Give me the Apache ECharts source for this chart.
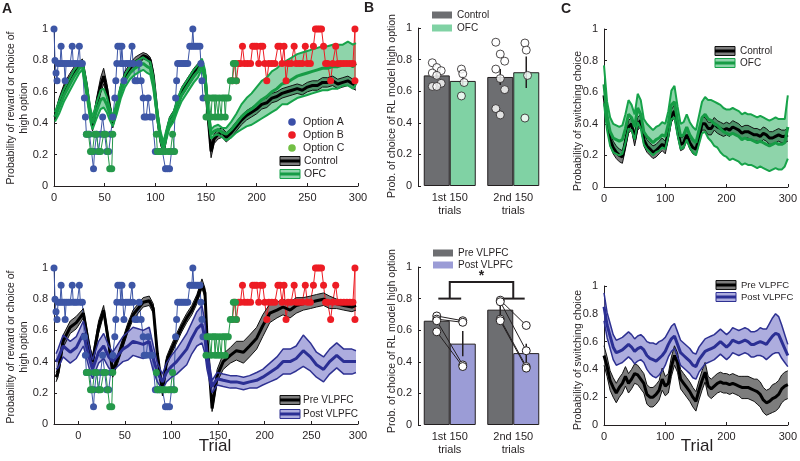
<!DOCTYPE html>
<html>
<head>
<meta charset="utf-8">
<script src="https://cdn.jsdelivr.net/npm/echarts@6/dist/echarts.min.js"></script>
<style>
html, body { margin: 0; padding: 0; background: #fff; }
#chart { width: 800px; height: 461px; }
</style>
</head>
<body>
<div id="chart"></div>
<script>
// ---- panel A : reward schedule (trial, probability) ----
var optA = [[0,1],[1,0.8],[2,0.72],[3,0.67],[4,0.78],[6,0.78],[7,0.89],[8,0.78],[10,0.78],[11,0.67],[12,0.78],[14,0.78],[16,0.78],[18,0.89],[19,0.78],[21,0.78],[23,0.78],[25,0.89],[26,0.78],[28,0.78],
    [30,0.56],[31,0.44],[32,0.33],[35,0.33],[37,0.22],[39,0.11],[40,0.22],[42,0.33],[44,0.22],[46,0.33],[48,0.44],[50,0.33],[52,0.22],[54,0.22],[56,0.33],[58,0.44],
    [60,0.56],[61,0.67],[62,0.78],[63,0.89],[65,0.89],[66,0.78],[67,0.89],[68,0.78],[69,0.67],[71,0.78],[73,0.78],[75,0.78],[77,0.89],[78,0.78],[80,0.67],[82,0.67],[84,0.78],[86,0.67],[88,0.56],[89,0.44],[91,0.44],[93,0.56],[95,0.44],[97,0.44],
    [100,0.22],[102,0.22],[104,0.22],[107,0.22],[110,0.11],[112,0.11],[114,0.11],[116,0.22],[118,0.22],
    [120,0.56],[121,0.67],[122,0.78],[124,0.78],[126,0.78],[128,0.78],[130,0.78],[132,0.78],[134,0.89],[136,0.89],[137,1],[138,0.89],[140,0.89],[142,0.89],[144,0.89],[145,0.78],[146,0.67],[147,0.56]];
var optB = [[176,0.67],[178,0.78],[180,0.67],[182,0.78],[184,0.78],[186,0.89],[188,0.78],[191,0.78],[194,0.78],[196,0.89],[198,0.89],[200,0.89],[202,0.78],[204,0.89],[206,0.89],[208,0.78],[210,0.67],[212,0.78],[215,0.78],[218,0.78],
    [221,0.89],[223,0.89],[225,0.78],[227,0.89],[229,0.67],[231,0.78],[234,0.78],[237,0.89],[239,0.78],[242,0.78],[245,0.78],[248,0.89],[250,0.78],[253,0.78],[256,0.89],[258,1],[260,1],[262,1],[264,1],[266,0.89],
    [268,0.78],[270,0.78],[273,0.67],[275,0.78],[278,0.89],[280,0.78],[283,0.78],[286,0.78],[289,0.78],[292,0.78],[295,0.78],[297,1],[297,0.67]];
var optC1 = [[32,0.33],[34,0.33],[36,0.22],[38,0.22],[40,0.33],[42,0.33],[44,0.22],[46,0.22],[49,0.33],[51,0.33],[53,0.22],[55,0.11],[57,0.11],[58,0.33]];
var optC2 = [[101,0.33],[102,0.22],[104,0.22],[106,0.22],[108,0.22],[110,0.22],[113,0.22],[115,0.22],[117,0.33],[119,0.22]];
var optC3 = [[150,0.44],[151,0.56],[153,0.56],[155,0.44],[156,0.56],[158,0.56],[159,0.44],[160,0.56],[162,0.44],[163,0.56],[165,0.44],[166,0.56],[168,0.56],[169,0.44],[170,0.56],[172,0.56],[174,0.67],[176,0.67],[177,0.78],[179,0.78],[180,0.67]];

// ---- panel A top : Control vs OFC ----
var aTopX = [1,5,10,15,20,25,28, 32,36,38,42,46,49,52,55,58, 62,66,70,75,80,85,88,92,95,98,
    102,105,108,111,114,118,122,126,130,134, 138,142,146,149,152,155,158,162,166,170,
    175,180,185,190,195,200,205,210,215,220, 225,230,235,240,245,250,255,260,265,270, 275,280,285,290,295,298];
var aTopCtrlMean = [0.44,0.53,0.62,0.68,0.73,0.77,0.79, 0.64,0.45,0.38,0.52,0.64,0.70,0.62,0.50,0.40,
    0.50,0.62,0.70,0.75,0.79,0.81,0.83,0.82,0.80,0.70, 0.45,0.30,0.22,0.33,0.41,0.45,0.53,0.60,0.64,0.68,
    0.72,0.75,0.79,0.70,0.45,0.22,0.30,0.33,0.34,0.31, 0.34,0.38,0.42,0.45,0.47,0.49,0.52,0.53,0.56,0.57,
    0.59,0.60,0.61,0.62,0.61,0.63,0.64,0.64,0.66,0.66, 0.67,0.65,0.66,0.67,0.65,0.64];
var aTopCtrlSem = [0.02,0.03,0.03,0.03,0.03,0.02,0.02, 0.03,0.03,0.03,0.04,0.05,0.05,0.04,0.03,0.03,
    0.03,0.03,0.03,0.03,0.03,0.03,0.02,0.02,0.02,0.03, 0.03,0.03,0.02,0.03,0.03,0.03,0.03,0.03,0.03,0.03,
    0.03,0.03,0.02,0.03,0.04,0.04,0.03,0.03,0.03,0.03, 0.03,0.03,0.03,0.03,0.03,0.03,0.03,0.03,0.03,0.03,
    0.03,0.03,0.03,0.03,0.03,0.03,0.03,0.03,0.03,0.03, 0.03,0.03,0.03,0.03,0.03,0.03];
var aTopOfcMean = [0.44,0.50,0.58,0.64,0.70,0.75,0.77, 0.62,0.45,0.40,0.48,0.55,0.56,0.52,0.46,0.41,
    0.50,0.60,0.67,0.72,0.75,0.77,0.78,0.76,0.75,0.66, 0.45,0.32,0.25,0.33,0.40,0.44,0.52,0.58,0.62,0.66,
    0.70,0.73,0.78,0.70,0.48,0.33,0.35,0.36,0.34,0.33, 0.36,0.40,0.44,0.47,0.49,0.52,0.55,0.57,0.60,0.62,
    0.65,0.66,0.68,0.70,0.71,0.72,0.73,0.74,0.75,0.75, 0.76,0.76,0.77,0.78,0.76,0.78];
var aTopOfcSem = [0.03,0.04,0.04,0.04,0.04,0.03,0.03, 0.04,0.04,0.04,0.05,0.06,0.06,0.05,0.04,0.03,
    0.04,0.04,0.04,0.04,0.04,0.04,0.04,0.04,0.04,0.04, 0.03,0.03,0.03,0.03,0.03,0.03,0.04,0.04,0.04,0.04,
    0.04,0.04,0.03,0.04,0.04,0.03,0.03,0.03,0.03,0.04, 0.05,0.06,0.08,0.09,0.10,0.11,0.12,0.12,0.13,0.13,
    0.13,0.14,0.14,0.14,0.14,0.14,0.14,0.14,0.14,0.14, 0.14,0.14,0.13,0.14,0.14,0.13];

// ---- panel A bottom : Pre vs Post VLPFC ----
var aBotX = [2,4,9,16,22,29,35,38,44,49, 54,58,63,68,73,78,83,88,94,98, 102,107,111,116,121,126,131,136,141,146,
    149,151,156,161,167,174,180,187,193,200, 206,213,220,226,233,239,246,253,259,266, 272,279,286,294,298];
var aBotPreMean = [0.30,0.33,0.53,0.62,0.65,0.71,0.48,0.40,0.62,0.73, 0.52,0.33,0.42,0.52,0.62,0.70,0.74,0.78,0.79,0.74,
    0.45,0.20,0.40,0.48,0.55,0.62,0.68,0.73,0.80,0.90, 0.84,0.55,0.10,0.31,0.40,0.44,0.47,0.46,0.50,0.55,
    0.63,0.71,0.73,0.75,0.73,0.76,0.77,0.78,0.79,0.80, 0.78,0.77,0.76,0.75,0.76];
var aBotPreSem = [0.03,0.03,0.04,0.04,0.04,0.03,0.03,0.03,0.04,0.03, 0.03,0.03,0.03,0.03,0.03,0.03,0.03,0.03,0.03,0.03,
    0.03,0.02,0.03,0.03,0.03,0.03,0.03,0.03,0.03,0.03, 0.03,0.03,0.02,0.04,0.05,0.05,0.06,0.07,0.07,0.07,
    0.07,0.06,0.05,0.05,0.05,0.05,0.04,0.04,0.04,0.04, 0.04,0.03,0.03,0.03,0.03];
var aBotPostMean = [0.40,0.42,0.50,0.46,0.49,0.58,0.42,0.35,0.46,0.50, 0.43,0.40,0.44,0.48,0.50,0.53,0.52,0.51,0.53,0.42,
    0.33,0.27,0.33,0.37,0.40,0.44,0.48,0.55,0.61,0.64, 0.55,0.42,0.24,0.29,0.28,0.27,0.27,0.26,0.27,0.28,
    0.30,0.33,0.36,0.40,0.40,0.42,0.47,0.43,0.38,0.35, 0.40,0.44,0.40,0.40,0.40];
var aBotPostSem = [0.05,0.06,0.07,0.07,0.07,0.08,0.07,0.06,0.07,0.08, 0.07,0.06,0.07,0.08,0.09,0.09,0.09,0.09,0.09,0.08,
    0.06,0.05,0.06,0.07,0.08,0.09,0.10,0.10,0.11,0.12, 0.10,0.07,0.04,0.04,0.04,0.04,0.04,0.04,0.04,0.05,
    0.05,0.06,0.07,0.08,0.08,0.08,0.10,0.09,0.08,0.08, 0.08,0.08,0.08,0.08,0.07];

// ---- panel B : model fits ----
var bCats = ['1st 150\ntrials', '2nd 150\ntrials'];
var ctrlBar = [0.70, 0.69], ctrlErr = [0.02, 0.05];
var ofcBar = [0.665, 0.72], ofcErr = [0.03, 0.10];
var ctrlDots = [[0.78,0.75,0.73,0.715,0.70,0.65,0.63,0.63], [0.91,0.835,0.79,0.74,0.68,0.61,0.49,0.45]];
var ofcDots = [[0.74,0.71,0.655,0.57], [0.905,0.86,0.70,0.43]];
var preBar = [0.66, 0.73], preErr = [0.02, 0.04];
var postBar = [0.515, 0.455], postErr = [0.08, 0.06];
var prePts = [[0.69,0.67,0.66,0.59], [0.79,0.78,0.67,0.66]];
var postPts = [[0.66,0.65,0.38,0.37], [0.63,0.47,0.37,0.36]];

// ---- panel C : switching probability ----
var cX = [0,5,10,15,20,25,30,35,40,45, 50,55,60,65,70,75,80,85,90,95, 100,105,110,115,120,125,130,135,140,145,
    150,155,160,165,170,175,180,185,190,195, 200,205,210,215,220,225,230,235,240,245, 250,255,260,265,270,275,280,285,290,295, 300];
var cTopCtrlMean = [0.58,0.42,0.30,0.25,0.22,0.20,0.19,0.28,0.38,0.40, 0.30,0.40,0.42,0.30,0.26,0.24,0.22,0.23,0.25,0.27,
    0.25,0.34,0.45,0.48,0.36,0.27,0.28,0.33,0.28,0.25, 0.24,0.31,0.40,0.40,0.37,0.37,0.40,0.38,0.37,0.36,
    0.37,0.36,0.38,0.37,0.36,0.34,0.35,0.35,0.34,0.33, 0.33,0.32,0.34,0.33,0.31,0.31,0.32,0.33,0.32,0.32, 0.33];
var cTopCtrlSem = [0.05,0.04,0.04,0.04,0.04,0.04,0.04,0.04,0.04,0.04, 0.04,0.04,0.04,0.04,0.04,0.04,0.04,0.04,0.04,0.04,
    0.04,0.04,0.04,0.04,0.04,0.04,0.04,0.04,0.04,0.04, 0.04,0.04,0.04,0.04,0.04,0.04,0.04,0.04,0.04,0.04,
    0.04,0.04,0.04,0.04,0.04,0.04,0.04,0.04,0.04,0.04, 0.04,0.04,0.04,0.04,0.04,0.04,0.04,0.04,0.04,0.04, 0.04];
var cTopOfcMean = [0.65,0.45,0.35,0.31,0.30,0.29,0.30,0.37,0.46,0.44, 0.38,0.50,0.46,0.35,0.32,0.30,0.28,0.30,0.31,0.33,
    0.32,0.40,0.52,0.54,0.42,0.32,0.33,0.38,0.33,0.30, 0.28,0.36,0.44,0.46,0.43,0.42,0.40,0.39,0.37,0.35,
    0.34,0.33,0.34,0.33,0.32,0.30,0.31,0.30,0.30,0.29, 0.28,0.29,0.28,0.27,0.26,0.27,0.28,0.27,0.27,0.28, 0.38];
var cTopOfcSem = [0.12,0.09,0.09,0.09,0.09,0.09,0.09,0.09,0.09,0.08, 0.08,0.09,0.09,0.08,0.08,0.08,0.08,0.08,0.08,0.08,
    0.08,0.08,0.09,0.10,0.09,0.08,0.08,0.08,0.08,0.08, 0.08,0.09,0.10,0.11,0.12,0.13,0.14,0.14,0.15,0.15,
    0.15,0.16,0.16,0.16,0.16,0.16,0.16,0.16,0.16,0.16, 0.16,0.16,0.16,0.16,0.16,0.16,0.16,0.16,0.16,0.15, 0.20];
var cBotPreMean = [0.50,0.42,0.32,0.27,0.23,0.27,0.30,0.35,0.30,0.33, 0.37,0.36,0.33,0.30,0.22,0.20,0.20,0.22,0.25,0.33,
    0.28,0.30,0.42,0.50,0.45,0.33,0.30,0.27,0.24,0.20, 0.17,0.25,0.32,0.38,0.28,0.26,0.28,0.30,0.31,0.30,
    0.30,0.29,0.30,0.29,0.28,0.27,0.27,0.27,0.26,0.25, 0.24,0.22,0.18,0.16,0.17,0.19,0.20,0.22,0.26,0.28, 0.29];
var cBotPreSem = [0.07,0.07,0.07,0.07,0.07,0.07,0.07,0.07,0.07,0.07, 0.07,0.07,0.07,0.07,0.07,0.07,0.07,0.07,0.07,0.08,
    0.07,0.07,0.07,0.07,0.07,0.07,0.07,0.07,0.07,0.07, 0.07,0.07,0.07,0.07,0.07,0.07,0.07,0.07,0.07,0.07,
    0.07,0.07,0.07,0.07,0.07,0.08,0.08,0.08,0.08,0.08, 0.09,0.09,0.09,0.09,0.09,0.10,0.10,0.10,0.10,0.10, 0.10];
var cBotPostMean = [0.85,0.72,0.64,0.56,0.52,0.53,0.54,0.56,0.58,0.56, 0.53,0.55,0.56,0.54,0.50,0.48,0.47,0.46,0.48,0.50,
    0.53,0.58,0.62,0.64,0.58,0.52,0.50,0.48,0.46,0.43, 0.42,0.47,0.50,0.53,0.54,0.55,0.56,0.58,0.60,0.58,
    0.56,0.58,0.61,0.60,0.59,0.60,0.61,0.60,0.58,0.58, 0.59,0.60,0.59,0.58,0.61,0.64,0.66,0.65,0.60,0.55, 0.50];
var cBotPostSem = [0.10,0.09,0.09,0.09,0.09,0.09,0.09,0.09,0.09,0.09, 0.09,0.09,0.09,0.09,0.10,0.11,0.12,0.12,0.12,0.11,
    0.10,0.09,0.09,0.09,0.09,0.09,0.09,0.09,0.09,0.09, 0.09,0.09,0.09,0.09,0.09,0.09,0.09,0.09,0.09,0.09,
    0.09,0.09,0.09,0.09,0.09,0.09,0.09,0.09,0.09,0.09, 0.09,0.10,0.10,0.11,0.12,0.13,0.14,0.13,0.12,0.10, 0.08];

var FONT = '"Liberation Sans", Arial, Helvetica, sans-serif';
var INK = '#231f20';
var BLUE = '#3d56a6', RED = '#ed1c24', GREEN = '#25994a';
var CTRL = { fill: '#7d7d7d', edge: '#111', edgeW: 1, mean: '#000', meanW: 3 };
var OFC = { fill: 'rgba(30,170,85,0.5)', edge: '#17a34a', edgeW: 2, mean: '#169c45', meanW: 3 };
var POST = { fill: 'rgba(105,105,195,0.55)', edge: '#2e3192', edgeW: 1.5, mean: '#2b2f94', meanW: 3 };

// bar geometry in panel B (px), used to place dots on the hidden value axis
var barW = 26, bGridW = 127;
var OFF = (barW / 2) * 2 / bGridW;

function yAx(g) {
    return {
        type: 'value', gridIndex: g, min: 0, max: 1, interval: 0.2,
        axisLine: { show: true, lineStyle: { color: INK, width: 1 } },
        axisTick: { show: true, inside: true, length: 3, lineStyle: { color: INK } },
        axisLabel: { fontSize: 11, color: INK, fontFamily: FONT, margin: 6 },
        splitLine: { show: false }
    };
}
function xVal(g, max, iv) {
    return {
        type: 'value', gridIndex: g, min: 0, max: max, interval: iv, position: 'bottom',
        axisLine: { show: true, onZero: false, lineStyle: { color: INK, width: 1 } },
        axisTick: { show: true, inside: true, length: 3, lineStyle: { color: INK } },
        axisLabel: { fontSize: 11, color: INK, fontFamily: FONT, margin: 6 },
        splitLine: { show: false }
    };
}
function xHidden(g, max) {
    return { type: 'value', gridIndex: g, min: 0, max: max, show: false, position: 'bottom', splitLine: { show: false } };
}
function xCat(g) {
    return {
        type: 'category', gridIndex: g, data: bCats, position: 'bottom',
        axisLine: { show: false }, axisTick: { show: false },
        axisLabel: { fontSize: 11, color: INK, fontFamily: FONT, margin: 5, lineHeight: 13 }
    };
}

function lineS(data, xi, yi, color, w) {
    return { type: 'line', xAxisIndex: xi, yAxisIndex: yi, data: data, symbol: 'none', silent: true,
        lineStyle: { color: color, width: w } };
}
function band(xs, mean, sem, xi, yi, st) {
    var pts = xs.map(function (x, i) { return [x, mean[i] - sem[i], mean[i] + sem[i]]; });
    var lo = pts.map(function (p) { return [p[0], p[1]]; });
    var hi = pts.map(function (p) { return [p[0], p[2]]; });
    var mid = xs.map(function (x, i) { return [x, mean[i]]; });
    return [
        { type: 'custom', xAxisIndex: xi, yAxisIndex: yi, data: pts, encode: { x: 0, y: [1, 2] }, silent: true,
          renderItem: function (params, api) {
              if (params.dataIndex !== 0) return null;
              var poly = [];
              for (var i = 0; i < pts.length; i++) poly.push(api.coord([pts[i][0], pts[i][2]]));
              for (var j = pts.length - 1; j >= 0; j--) poly.push(api.coord([pts[j][0], pts[j][1]]));
              return { type: 'polygon', shape: { points: poly }, style: { fill: st.fill } };
          } },
        lineS(lo, xi, yi, st.edge, st.edgeW),
        lineS(hi, xi, yi, st.edge, st.edgeW),
        lineS(mid, xi, yi, st.mean, st.meanW)
    ];
}
function sched(data, color, xi, yi) {
    return { type: 'line', xAxisIndex: xi, yAxisIndex: yi, data: data, symbol: 'circle', symbolSize: 7,
        clip: false, silent: true, lineStyle: { color: color, width: 1 }, itemStyle: { color: color } };
}
function schedAll(xi, yi) {
    return [sched(optA, BLUE, xi, yi), sched(optB, RED, xi, yi),
        sched(optC1, GREEN, xi, yi), sched(optC2, GREEN, xi, yi), sched(optC3, GREEN, xi, yi)];
}
function errBars(xs, vals, errs, xi, yi) {
    var d = xs.map(function (x, i) { return [x, vals[i] - errs[i], vals[i] + errs[i]]; });
    return { type: 'custom', xAxisIndex: xi, yAxisIndex: yi, data: d, encode: { x: 0, y: [1, 2] }, silent: true, z: 3,
        renderItem: function (params, api) {
            var a = api.coord([api.value(0), api.value(1)]);
            var b = api.coord([api.value(0), api.value(2)]);
            return { type: 'line', shape: { x1: a[0], y1: a[1], x2: b[0], y2: b[1] }, style: { stroke: INK, lineWidth: 1.5 } };
        } };
}
function dots(data, xi, yi) {
    return { type: 'scatter', xAxisIndex: xi, yAxisIndex: yi, data: data, symbol: 'circle', symbolSize: 8, z: 4, silent: true,
        itemStyle: { color: '#fff', borderColor: INK, borderWidth: 1 } };
}
function bars(vals, color, xi, yi) {
    return { type: 'bar', xAxisIndex: xi, yAxisIndex: yi, data: vals, barWidth: barW, barGap: '0%', silent: true,
        itemStyle: { color: color, borderColor: INK, borderWidth: 1 } };
}
function jit(k) { return ((k % 3) - 1) * 0.07; }

var series = [];
// A top
series = series.concat(schedAll(0, 0));
series = series.concat(band(aTopX, aTopCtrlMean, aTopCtrlSem, 0, 0, CTRL));
series = series.concat(band(aTopX, aTopOfcMean, aTopOfcSem, 0, 0, OFC));
// A bottom
series = series.concat(schedAll(1, 1));
series = series.concat(band(aBotX, aBotPreMean, aBotPreSem, 1, 1, CTRL));
series = series.concat(band(aBotX, aBotPostMean, aBotPostSem, 1, 1, POST));
// B top
series.push(bars(ctrlBar, '#6d6e71', 3, 2));
series.push(bars(ofcBar, '#80d2a4', 3, 2));
series.push(errBars([0.5 - OFF, 1.5 - OFF], ctrlBar, ctrlErr, 4, 2));
series.push(errBars([0.5 + OFF, 1.5 + OFF], ofcBar, ofcErr, 4, 2));
[0, 1].forEach(function (g) {
    series.push(dots(ctrlDots[g].map(function (v, k) { return [g + 0.5 - OFF + jit(k), v]; }), 4, 2));
    series.push(dots(ofcDots[g].map(function (v, k) { return [g + 0.5 + OFF + jit(k) * 0.3, v]; }), 4, 2));
});
// B bottom
series.push(bars(preBar, '#6d6e71', 5, 3));
series.push(bars(postBar, '#9b9cd6', 5, 3));
series.push(errBars([0.5 - OFF, 1.5 - OFF], preBar, preErr, 6, 3));
series.push(errBars([0.5 + OFF, 1.5 + OFF], postBar, postErr, 6, 3));
[0, 1].forEach(function (g) {
    prePts[g].forEach(function (v, k) {
        series.push({ type: 'line', xAxisIndex: 6, yAxisIndex: 3, z: 4, silent: true,
            data: [[g + 0.5 - OFF, v], [g + 0.5 + OFF, postPts[g][k]]],
            symbol: 'circle', symbolSize: 8, lineStyle: { color: INK, width: 1 },
            itemStyle: { color: '#fff', borderColor: INK, borderWidth: 1 } });
    });
});
// significance bracket
series.push({ type: 'custom', xAxisIndex: 6, yAxisIndex: 3, data: [[1, 0.9]], clip: false, silent: true,
    renderItem: function (params, api) {
        var lo = 0.8, hi = 0.905, arm = 0.18, g0 = 0.5, g1 = 1.5;
        var segs = [[[g0 - arm, lo], [g0 + arm, lo]], [[g0, lo], [g0, hi], [g1, hi], [g1, lo]], [[g1 - arm, lo], [g1 + arm, lo]]];
        var ch = segs.map(function (s) {
            return { type: 'polyline', shape: { points: s.map(function (p) { return api.coord(p); }) },
                style: { stroke: INK, lineWidth: 2, fill: null } };
        });
        var c = api.coord([1, 0.94]);
        ch.push({ type: 'text', x: c[0], y: c[1], style: { text: '*', font: 'bold 14px ' + FONT, fill: INK, align: 'center', verticalAlign: 'middle' } });
        return { type: 'group', children: ch };
    } });
// C
series = series.concat(band(cX, cTopCtrlMean, cTopCtrlSem, 7, 4, CTRL));
series = series.concat(band(cX, cTopOfcMean, cTopOfcSem, 7, 4, OFC));
series = series.concat(band(cX, cBotPreMean, cBotPreSem, 8, 5, CTRL));
series = series.concat(band(cX, cBotPostMean, cBotPostSem, 8, 5, POST));

// ---- legends / titles as graphics ----
function txt(x, y, s, size, extra) {
    var o = { type: 'text', x: x, y: y, silent: true,
        style: { text: s, font: size + 'px ' + FONT, fill: INK, align: 'left', verticalAlign: 'middle' } };
    if (extra) for (var k in extra) o[k] = extra[k];
    return o;
}
function vTitle(x, y, s) {
    var t = txt(x, y, s, 10.5, { rotation: Math.PI / 2 });
    t.style.align = 'center';
    t.style.lineHeight = 13;
    return t;
}
function keyBand(x, y, st, label, tx, fs) {
    return [
        { type: 'rect', silent: true, shape: { x: x, y: y - 4.5, width: 20, height: 9 }, style: { fill: st.fill, stroke: st.edge, lineWidth: 1 } },
        { type: 'rect', silent: true, shape: { x: x, y: y - 1.5, width: 20, height: 3 }, style: { fill: st.mean } },
        txt(tx, y, label, fs)
    ];
}
function keyRect(x, y, color, label) {
    return [
        { type: 'rect', silent: true, shape: { x: x, y: y - 3.5, width: 20, height: 7 }, style: { fill: color } },
        txt(x + 25, y, label, 10)
    ];
}
function keyDot(x, y, color, label) {
    return [
        { type: 'circle', silent: true, shape: { cx: x, cy: y, r: 3.8 }, style: { fill: color } },
        txt(x + 11, y, label, 10.5)
    ];
}

var graphics = [
    txt(2, 9, 'A', 14, {}), txt(364, 8, 'B', 14, {}), txt(561, 9, 'C', 14, {}),
    vTitle(18, 108, 'Probability of reward or choice of\nhigh option'),
    vTitle(18, 347, 'Probability of reward or choice of\nhigh option'),
    vTitle(392, 106, 'Prob. of choice of RL model high option'),
    vTitle(392, 341, 'Prob. of choice of RL model high option'),
    vTitle(578, 121, 'Probability of switching choice'),
    vTitle(578, 360, 'Probability of switching choice'),
    txt(215, 446, 'Trial', 17, {}), txt(697, 446, 'Trial', 17, {})
];
graphics[0].style.font = 'bold 14px ' + FONT;
graphics[1].style.font = 'bold 14px ' + FONT;
graphics[2].style.font = 'bold 14px ' + FONT;
graphics[9].style.align = 'center';
graphics[10].style.align = 'center';
graphics = graphics
    .concat(keyDot(292, 122, '#3b4fa8', 'Option A'))
    .concat(keyDot(292, 135, RED, 'Option B'))
    .concat(keyDot(292, 148, '#72bf44', 'Option C'))
    .concat(keyBand(280, 161, CTRL, 'Control', 304, 10.5))
    .concat(keyBand(280, 174, OFC, 'OFC', 304, 10.5))
    .concat(keyBand(280, 400, CTRL, 'Pre VLPFC', 303, 10))
    .concat(keyBand(280, 414, POST, 'Post VLPFC', 303, 10))
    .concat(keyRect(432, 15, '#6d6e71', 'Control'))
    .concat(keyRect(432, 28, '#80d2a4', 'OFC'))
    .concat(keyRect(433, 253, '#6d6e71', 'Pre VLPFC'))
    .concat(keyRect(433, 265, '#9b9cd6', 'Post VLPFC'))
    .concat(keyBand(715, 51, CTRL, 'Control', 740, 10))
    .concat(keyBand(715, 63, OFC, 'OFC', 740, 10))
    .concat(keyBand(716, 285, CTRL, 'Pre VLPFC', 741, 9.5))
    .concat(keyBand(716, 297, POST, 'Post VLPFC', 741, 9.5));

var aBotAxis = xVal(1, 300, 50);
aBotAxis.min = -26;
delete aBotAxis.interval;
aBotAxis.axisLabel.customValues = [0, 50, 100, 150, 200, 250, 300];
aBotAxis.axisTick.customValues = [0, 50, 100, 150, 200, 250, 300];

var myChart = echarts.init(document.getElementById('chart'), null, { renderer: 'canvas' });
var option = {
    animation: false,
    backgroundColor: '#fff',
    grid: [
        { left: 54, top: 29, width: 304, height: 157 },
        { left: 54, top: 268, width: 304, height: 156 },
        { left: 418, top: 28, width: bGridW, height: 158 },
        { left: 418, top: 267, width: bGridW, height: 158 },
        { left: 604, top: 29, width: 187, height: 158 },
        { left: 604, top: 286, width: 187, height: 139 }
    ],
    xAxis: [
        xVal(0, 300, 50),
        xHidden(1, 300),
        aBotAxis,
        xCat(2),
        xHidden(2, 2),
        xCat(3),
        xHidden(3, 2),
        xVal(4, 300, 100),
        xVal(5, 300, 100)
    ],
    yAxis: [yAx(0), yAx(1), yAx(2), yAx(3), yAx(4), yAx(5)],
    series: series,
    graphic: graphics
};
option && myChart.setOption(option);
</script>
</body>
</html>
